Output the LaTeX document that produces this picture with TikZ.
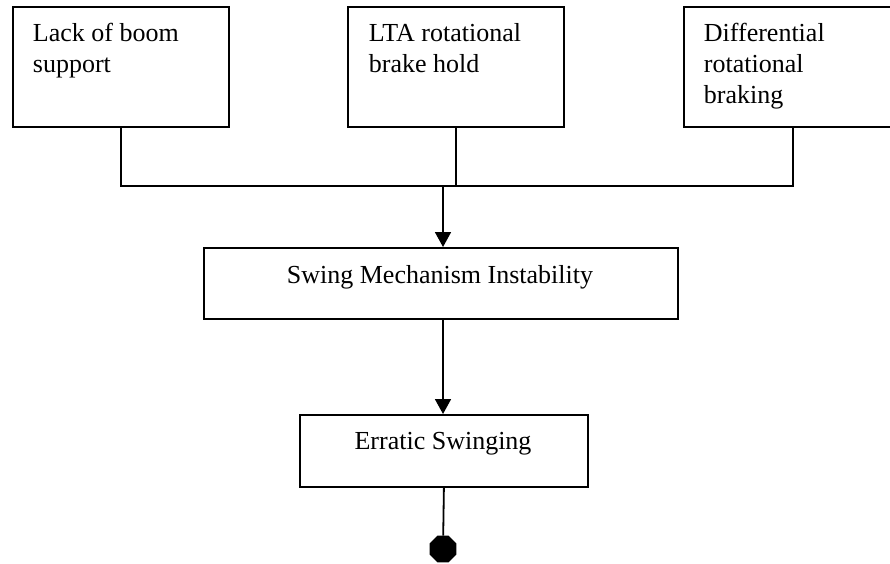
\documentclass[tikz,border=0pt]{standalone}
\usepackage{fontspec}
\setmainfont{Liberation Serif}
\usetikzlibrary{arrows.meta,shapes.geometric}

\begin{document}
\begin{tikzpicture}[x=1pt, y=-1pt, line width=1.8pt,
    box/.style = {draw, anchor=north west, inner sep=0pt},
    txt/.style = {align=left, inner sep=0pt,
      font=\fontsize{26}{31}\selectfont},
    arr/.style = {-{Triangle[length=15pt, width=16pt]}}]
  \useasboundingbox (0,0) rectangle (890,563);
  % causes
  \node[box, minimum width=216pt, minimum height=120pt] (lack) at (12,6) {};
  \node[box, minimum width=216pt, minimum height=120pt] (lta) at (347,6) {};
  \node[box, minimum width=218pt, minimum height=120pt] (diff) at (683,6) {};
  \node[txt, anchor=base west] (lacktxt) at (32,72) {Lack of boom\\support};
  \node[txt, anchor=base west] (ltatxt) at (368,72) {LTA rotational\\brake hold};
  \node[txt, anchor=base west] (difftxt) at (703,103)
    {Differential\\rotational\\braking};
  % effects
  \node[box, minimum width=474pt, minimum height=71pt] (swing) at (203,247) {};
  \node[txt, anchor=base] (swingtxt) at (440,283) {Swing Mechanism Instability};
  \node[box, minimum width=288pt, minimum height=72pt] (err) at (299,414) {};
  \node[txt, anchor=base] (errtxt) at (443,449) {Erratic Swinging};
  \node[draw, fill, regular polygon, regular polygon sides=8,
    minimum size=27pt, inner sep=0pt] (stop) at (443,549) {};
  % connectors
  \coordinate (joint) at (443,186);
  \draw (lack.south) |- (joint) -| (diff.south);
  \draw (lta.south) -- (lta.south |- joint);
  \draw[arr] (joint) -- (joint |- swing.north);
  \draw[arr] (joint |- swing.south) -- (joint |- err.north);
  \draw (err.south) -- (stop);
\end{tikzpicture}
\end{document}
